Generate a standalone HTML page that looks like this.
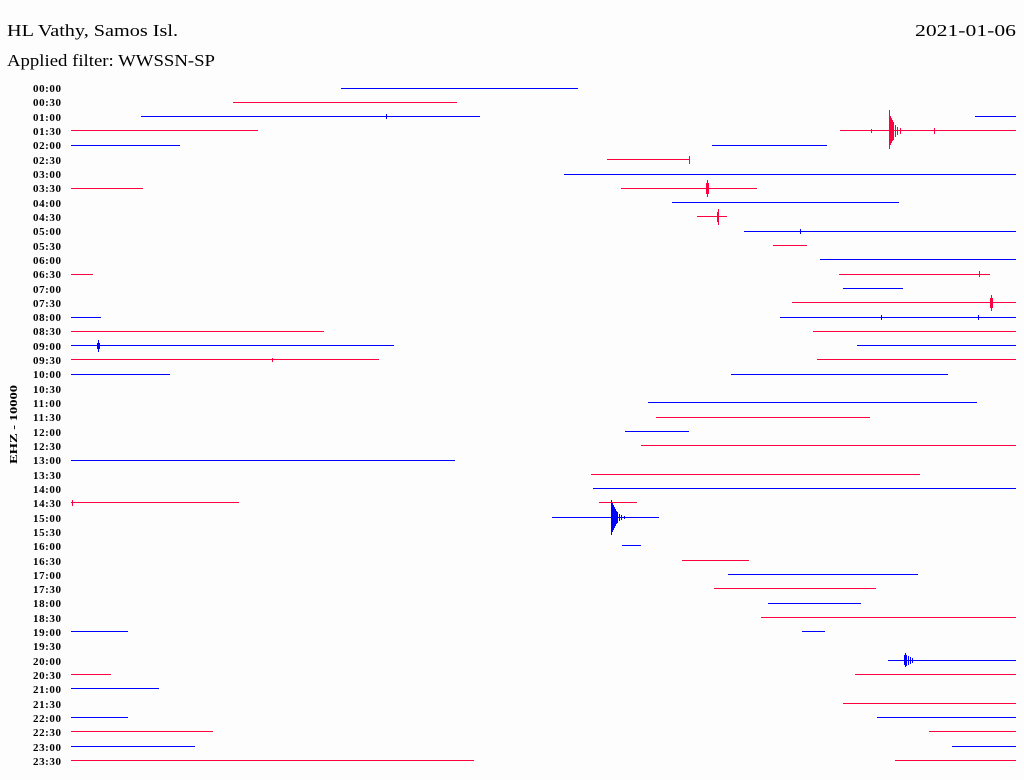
<!DOCTYPE html>
<html><head><meta charset="utf-8"><style>
html,body{margin:0;padding:0;background:#fdfdfd;}
svg{display:block;}
text{font-family:"Liberation Serif",serif;fill:#000;}
</style></head><body>
<svg width="1024" height="780" viewBox="0 0 1024 780" xmlns="http://www.w3.org/2000/svg">
<rect width="1024" height="780" fill="#fdfdfd"/>
<text x="7" y="36" font-size="17" textLength="171" lengthAdjust="spacingAndGlyphs">HL Vathy, Samos Isl.</text>
<text x="915" y="36" font-size="17" textLength="101" lengthAdjust="spacingAndGlyphs">2021-01-06</text>
<text x="7" y="66" font-size="17" textLength="208" lengthAdjust="spacingAndGlyphs">Applied filter: WWSSN-SP</text>
<text transform="translate(17,464) rotate(-90)" font-size="11" font-weight="bold" textLength="79" lengthAdjust="spacingAndGlyphs">EHZ - 10000</text>
<g font-size="11" font-weight="bold">
<text x="33" y="92" textLength="28">00:00</text><text x="33" y="106" textLength="28">00:30</text><text x="33" y="121" textLength="28">01:00</text><text x="33" y="135" textLength="28">01:30</text>
<text x="33" y="149" textLength="28">02:00</text><text x="33" y="164" textLength="28">02:30</text><text x="33" y="178" textLength="28">03:00</text><text x="33" y="192" textLength="28">03:30</text>
<text x="33" y="207" textLength="28">04:00</text><text x="33" y="221" textLength="28">04:30</text><text x="33" y="235" textLength="28">05:00</text><text x="33" y="250" textLength="28">05:30</text>
<text x="33" y="264" textLength="28">06:00</text><text x="33" y="278" textLength="28">06:30</text><text x="33" y="293" textLength="28">07:00</text><text x="33" y="307" textLength="28">07:30</text>
<text x="33" y="321" textLength="28">08:00</text><text x="33" y="335" textLength="28">08:30</text><text x="33" y="350" textLength="28">09:00</text><text x="33" y="364" textLength="28">09:30</text>
<text x="33" y="378" textLength="28">10:00</text><text x="33" y="393" textLength="28">10:30</text><text x="33" y="407" textLength="28">11:00</text><text x="33" y="421" textLength="28">11:30</text>
<text x="33" y="436" textLength="28">12:00</text><text x="33" y="450" textLength="28">12:30</text><text x="33" y="464" textLength="28">13:00</text><text x="33" y="479" textLength="28">13:30</text>
<text x="33" y="493" textLength="28">14:00</text><text x="33" y="507" textLength="28">14:30</text><text x="33" y="522" textLength="28">15:00</text><text x="33" y="536" textLength="28">15:30</text>
<text x="33" y="550" textLength="28">16:00</text><text x="33" y="565" textLength="28">16:30</text><text x="33" y="579" textLength="28">17:00</text><text x="33" y="593" textLength="28">17:30</text>
<text x="33" y="607" textLength="28">18:00</text><text x="33" y="622" textLength="28">18:30</text><text x="33" y="636" textLength="28">19:00</text><text x="33" y="650" textLength="28">19:30</text>
<text x="33" y="665" textLength="28">20:00</text><text x="33" y="679" textLength="28">20:30</text><text x="33" y="693" textLength="28">21:00</text><text x="33" y="708" textLength="28">21:30</text>
<text x="33" y="722" textLength="28">22:00</text><text x="33" y="736" textLength="28">22:30</text><text x="33" y="751" textLength="28">23:00</text><text x="33" y="765" textLength="28">23:30</text>
</g>
<g stroke="#0000ff" stroke-width="1" fill="none" shape-rendering="crispEdges">
<path d="M341 88.5H578M141 116.5H480M975 116.5H1016M71 145.5H180M712 145.5H827M564 174.5H1016M672 202.5H899M744 231.5H1016M820 259.5H1016M843 288.5H903M71 317.5H101M780 317.5H1016M71 345.5H394M857 345.5H1016M71 374.5H170M731 374.5H948M648 402.5H977M625 431.5H689M71 460.5H455M593 488.5H1016M552 517.5H659M622 545.5H641M728 574.5H918M768 603.5H861M71 631.5H128M802 631.5H825M888 660.5H1016M71 688.5H159M71 717.5H128M877 717.5H1016M71 746.5H195M952 746.5H1016"/>
<path d="M98.5 340V352M97.5 343V349M99.5 343V349M386.5 114V119M800.5 229V234M881.5 315V320M978.5 315V320M611.5 500V535M612.5 503V532M613.5 505V530M614.5 507V528M615.5 509V526M616.5 511V524M617.5 512V523M619.5 514V521M621.5 515V520M624.5 516V519M905.5 653V667M904.5 655V665M906.5 655V666M908.5 656V665M910.5 657V664M912.5 658V663"/>
</g>
<g stroke="#ff0040" stroke-width="1" fill="none" shape-rendering="crispEdges">
<path d="M233 102.5H457M71 130.5H258M840 130.5H1016M607 159.5H690M71 188.5H143M621 188.5H757M697 216.5H727M773 245.5H807M71 274.5H93M839 274.5H990M792 302.5H1016M71 331.5H324M813 331.5H1016M71 359.5H379M817 359.5H1016M656 417.5H870M641 445.5H1016M591 474.5H920M71 502.5H239M599 502.5H637M682 560.5H749M714 588.5H876M761 617.5H1016M71 674.5H111M855 674.5H1016M843 703.5H1016M71 731.5H213M929 731.5H1016M71 760.5H474M895 760.5H1016"/>
<path d="M889.5 110V149M890.5 116V145M891.5 118V143M892.5 120V141M893.5 122V140M895.5 125V137M897.5 127V135M900.5 128V134M871.5 129V133M934.5 128V134M707.5 180V197M706.5 183V194M708.5 183V194M718.5 209V225M717.5 212V222M689.5 156V164M991.5 295V311M990.5 298V308M992.5 298V308M72.5 500V506M272.5 358V362M979.5 271V277"/>
</g>
</svg>
</body></html>
